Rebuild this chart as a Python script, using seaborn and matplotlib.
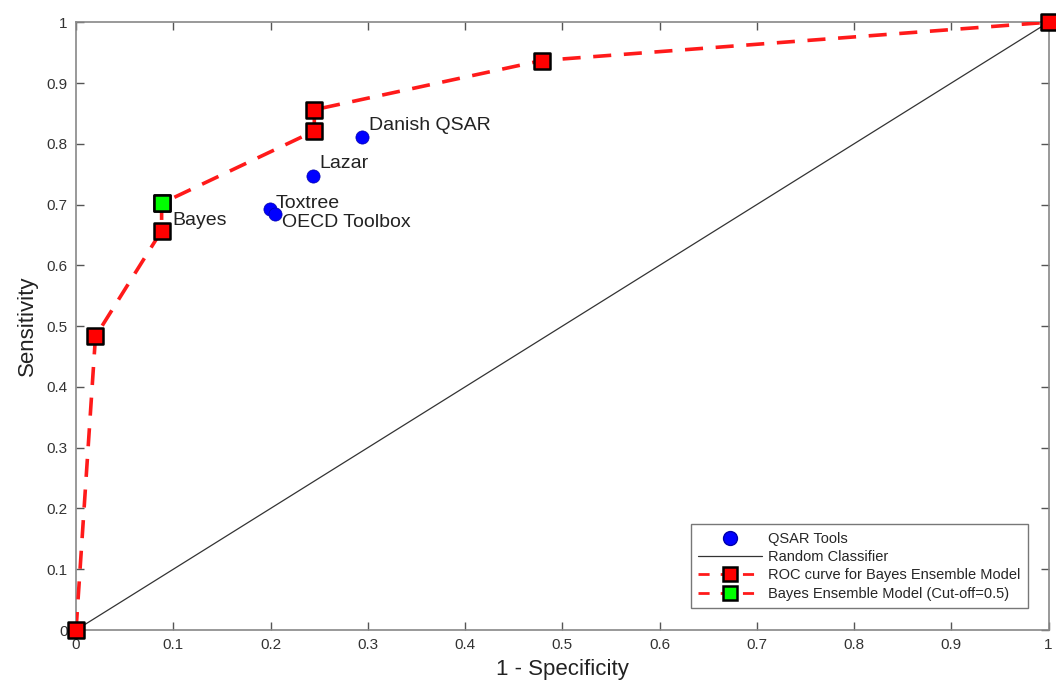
import matplotlib
matplotlib.use("Agg")
import matplotlib.pyplot as plt
from matplotlib.lines import Line2D
import pandas as pd
import seaborn as sns

# ROC curve for the Bayes ensemble model (1 - specificity, sensitivity)
roc_fpr = [0.0, 0.020, 0.088, 0.088, 0.245, 0.245, 0.479, 1.0]
roc_tpr = [0.0, 0.483, 0.657, 0.702, 0.821, 0.856, 0.937, 1.0]

# cut-off 0.5 point
cut_fpr = [0.088]
cut_tpr = [0.702]

# QSAR tools
tool_names = ["Danish QSAR", "Lazar", "Toxtree", "OECD Toolbox"]
tool_fpr = [0.294, 0.244, 0.199, 0.205]
tool_tpr = [0.811, 0.747, 0.692, 0.684]

ticks = [0, 0.1, 0.2, 0.3, 0.4, 0.5, 0.6, 0.7, 0.8, 0.9, 1]
tick_labels = ["0", "0.1", "0.2", "0.3", "0.4", "0.5", "0.6", "0.7", "0.8", "0.9", "1"]

sns.set_theme(style="white")
plt.rcParams["font.family"] = ["Liberation Sans", "DejaVu Sans"]

roc = pd.DataFrame({"fpr": roc_fpr, "tpr": roc_tpr})
tools = pd.DataFrame({"name": tool_names, "fpr": tool_fpr, "tpr": tool_tpr})

fig = plt.figure(figsize=(10.56, 6.86), dpi=100)
ax = fig.add_axes([0.072, 0.0816, 0.921, 0.886])

# random classifier
sns.lineplot(x=[0, 1], y=[0, 1], ax=ax, color="#333333", linewidth=0.9, zorder=2)

# ROC curve
sns.lineplot(data=roc, x="fpr", y="tpr", ax=ax, sort=False, estimator=None,
             color="#ff1a1a", linewidth=2.6, dashes=False, zorder=3)
ax.lines[-1].set_dashes([5, 3.5])
sns.scatterplot(data=roc, x="fpr", y="tpr", ax=ax, marker="s", s=130,
                color="#ff0000", edgecolor="black", linewidth=1.8, zorder=4)
sns.scatterplot(x=cut_fpr, y=cut_tpr, ax=ax, marker="s", s=130,
                color="#00ff00", edgecolor="black", linewidth=1.8, zorder=5)
for coll in ax.collections:
    coll.set_clip_on(False)

# QSAR tools
sns.scatterplot(data=tools, x="fpr", y="tpr", ax=ax, marker="o", s=90,
                color="#0000ff", edgecolor="#0000aa", linewidth=0.5, zorder=4)

offsets = {"Danish QSAR": (5, 2, "left", "bottom"),
           "Lazar": (4, 3, "left", "bottom"),
           "Toxtree": (4, 4, "left", "center"),
           "OECD Toolbox": (5, -6, "left", "center")}
for _, r in tools.iterrows():
    dx, dy, ha, va = offsets[r["name"]]
    ax.annotate(r["name"], (r["fpr"], r["tpr"]), textcoords="offset points",
                xytext=(dx, dy), ha=ha, va=va, fontsize=14, color="#222222")
ax.annotate("Bayes", (cut_fpr[0], cut_tpr[0]), textcoords="offset points",
            xytext=(8, -12), ha="left", va="center", fontsize=14, color="#222222")

ax.set_xlim(0, 1)
ax.set_ylim(0, 1)
ax.set_xticks(ticks)
ax.set_xticklabels(tick_labels)
ax.set_yticks(ticks)
ax.set_yticklabels(tick_labels)
ax.tick_params(direction="in", length=6, width=1, colors="#555555",
               labelcolor="#333333", labelsize=11, top=True, right=True,
               bottom=True, left=True, labeltop=False, labelright=False, pad=6)
for sp in ax.spines.values():
    sp.set_color("#888888")
    sp.set_linewidth(1.2)
ax.set_xlabel("1 - Specificity", fontsize=16, color="#222222", labelpad=5)
ax.set_ylabel("Sensitivity", fontsize=16, color="#222222", labelpad=6)

handles = [
    Line2D([], [], linestyle="none", marker="o", markersize=10,
           markerfacecolor="#0000ff", markeredgecolor="#0000aa"),
    Line2D([], [], color="#333333", linewidth=0.9),
    Line2D([], [], color="#ff1a1a", linewidth=2, dashes=[4, 4], marker="s",
           markersize=10, markerfacecolor="#ff0000", markeredgecolor="black",
           markeredgewidth=1.8),
    Line2D([], [], color="#ff1a1a", linewidth=2, dashes=[4, 4], marker="s",
           markersize=10, markerfacecolor="#00ff00", markeredgecolor="black",
           markeredgewidth=1.8),
]
labels = ["QSAR Tools", "Random Classifier", "ROC curve for Bayes Ensemble Model",
          "Bayes Ensemble Model (Cut-off=0.5)"]
leg = ax.legend(handles, labels, loc="lower right", bbox_to_anchor=(0.986, 0.024),
                fontsize=10.5, frameon=True, fancybox=False, framealpha=1,
                edgecolor="#777777", handlelength=4.4, labelspacing=0.3,
                borderpad=0.5, handletextpad=0.4)
leg.get_frame().set_linewidth(1.0)

fig.savefig("out.png", dpi=100)
